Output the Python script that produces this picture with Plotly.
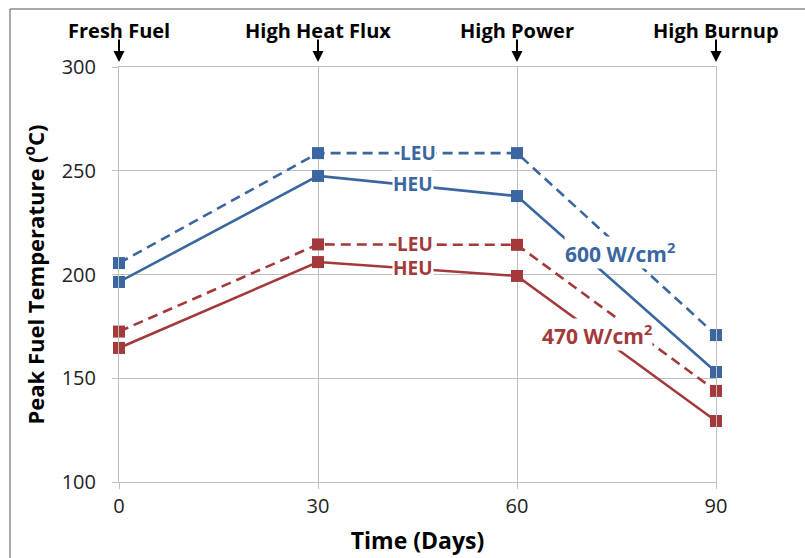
import plotly.graph_objects as go

days = [0, 30, 60, 90]
stage_labels = ["Fresh Fuel", "High Heat Flux", "High Power", "High Burnup"]
leu_600 = [205.5, 258.5, 258.5, 170.8]
heu_600 = [196.4, 247.5, 237.8, 153.0]
leu_470 = [172.5, 214.5, 214.3, 143.9]
heu_470 = [164.6, 206.0, 199.3, 129.4]

BLUE = "#3A66A1"
RED = "#A3393A"
FONT = "Open Sans"

fig = go.Figure()
series = [
    (leu_600, BLUE, "dash"),
    (heu_600, BLUE, "solid"),
    (leu_470, RED, "dash"),
    (heu_470, RED, "solid"),
]
for vals, col, dash in series:
    fig.add_trace(go.Scatter(
        x=days, y=vals, mode="lines+markers",
        line=dict(color=col, width=2.6, dash="10px,6px" if dash == "dash" else "solid"),
        marker=dict(symbol="square", size=12, color=col),
        cliponaxis=False, showlegend=False, hoverinfo="skip"))

# inline labels
inline = [
    ("LEU", 45.1, 258.6, BLUE, 19),
    ("HEU", 44.3, 243.6, BLUE, 19),
    ("LEU", 44.6, 214.8, RED, 19),
    ("HEU", 44.3, 203.0, RED, 19),
    ("600 W/cm<sup>2</sup>", 75.5, 210.6, BLUE, 21),
    ("470 W/cm<sup>2</sup>", 72.0, 171.0, RED, 21),
]
for txt, x, y, col, sz in inline:
    fig.add_annotation(x=x, y=y, xref="x", yref="y", text="<b>%s</b>" % txt,
                       showarrow=False, bgcolor="white", borderpad=0,
                       font=dict(family=FONT, size=sz, color=col))

# top stage labels with arrows
for d, lab in zip(days, stage_labels):
    fig.add_annotation(x=d, y=1.087, xref="x", yref="paper", yanchor="middle",
                       text="<b>%s</b>" % lab, showarrow=False,
                       font=dict(family=FONT, size=20, color="black"))
    fig.add_annotation(x=d, y=1.012, xref="x", yref="paper", text="",
                       showarrow=True, ax=0, ay=-24, arrowhead=2, arrowsize=1.1,
                       arrowwidth=2, arrowcolor="black")

# partial chart frame (top and left edges)
fig.add_shape(type="line", xref="paper", yref="paper", x0=-0.1826, x1=1.3, y0=1.1398, y1=1.1398,
              line=dict(color="#8c8c8c", width=1.5))
fig.add_shape(type="line", xref="paper", yref="paper", x0=-0.1826, x1=-0.1826, y0=1.1398, y1=-0.3,
              line=dict(color="#8c8c8c", width=1.5))

grid = "#c0c0c0"
fig.update_xaxes(range=[0, 90], tickvals=days, showgrid=True, gridcolor=grid, gridwidth=1,
                 showline=True, linecolor=grid, linewidth=1, mirror=True,
                 ticks="outside", ticklen=6, tickcolor=grid, zeroline=False, automargin=False,
                 tickfont=dict(family=FONT, size=20, color="#222"),
                 title=dict(text="<b>Time (Days)</b>", font=dict(family=FONT, size=23, color="black"), standoff=14))
fig.update_yaxes(range=[100, 300], tickvals=[100, 150, 200, 250, 300], showgrid=True, gridcolor=grid,
                 gridwidth=1, showline=True, linecolor=grid, linewidth=1, mirror=True,
                 ticks="outside", ticklen=6, tickcolor=grid, zeroline=False, automargin=False,
                 ticklabelstandoff=12,
                 tickfont=dict(family=FONT, size=20, color="#222"),
                 title=dict(text="<b>Peak Fuel Temperature (<sup>o</sup>C)</b>",
                            font=dict(family=FONT, size=22, color="black"), standoff=10))

fig.update_layout(width=805, height=558, margin=dict(l=119, r=89, t=67, b=76),
                  plot_bgcolor="white", paper_bgcolor="white")

fig.write_html("out.html")
